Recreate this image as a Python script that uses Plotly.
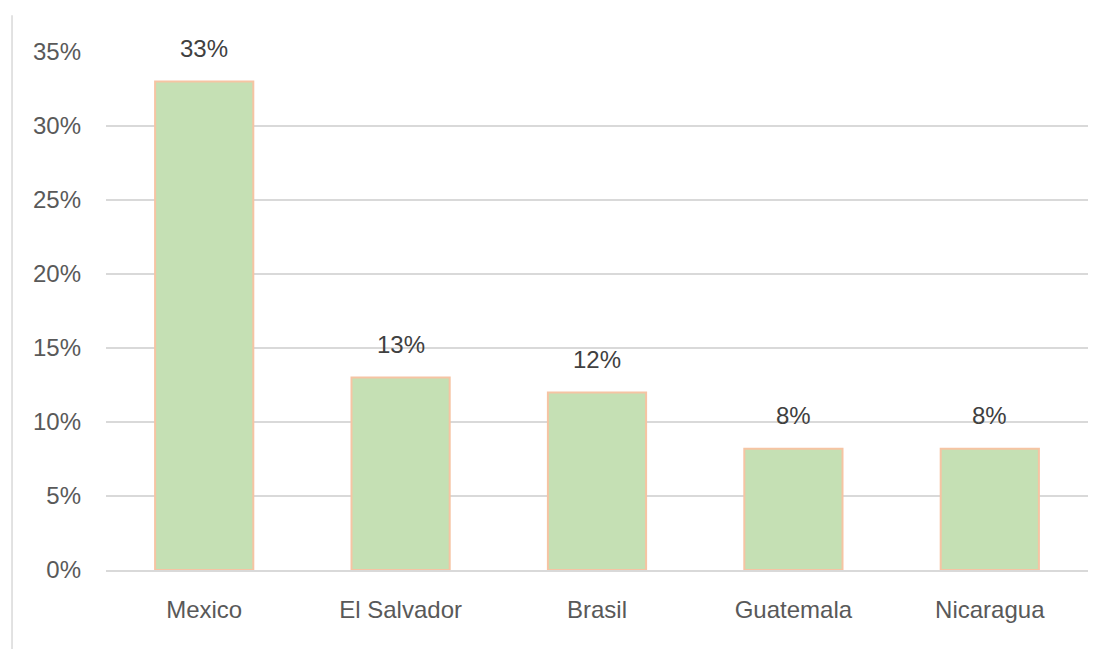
import plotly.graph_objects as go

categories = ["Mexico", "El Salvador", "Brasil", "Guatemala", "Nicaragua"]
values = [0.33, 0.13, 0.12, 0.082, 0.082]
tick_vals = [0, 0.05, 0.10, 0.15, 0.20, 0.25, 0.30, 0.35]
tick_text = ["0%", "5%", "10%", "15%", "20%", "25%", "30%", "35%"]

FONT = "Liberation Sans Narrow, Liberation Sans, Arial, sans-serif"

fig = go.Figure()
fig.add_trace(go.Bar(
    x=categories, y=values,
    marker=dict(color="#C5E0B4", line=dict(color="#F6C4A3", width=2)),
    width=0.5,
    hoverinfo="skip",
))

for c, v in zip(categories, values):
    fig.add_annotation(x=c, y=v, text=f"{round(v*100):.0f}%", showarrow=False,
                       yshift=33, font=dict(family=FONT, size=24, color="#404040"))

fig.add_shape(type="line", xref="paper", yref="paper", x0=-0.0957, x1=-0.0957,
              y0=1.071, y1=-0.16, line=dict(color="#D9D9D9", width=1.5))

fig.update_layout(
    width=1110, height=649,
    margin=dict(l=98, r=30, t=44, b=87),
    paper_bgcolor="white", plot_bgcolor="white",
    showlegend=False,
    font=dict(family=FONT, size=24, color="#595959"),
    bargap=0.5,
)
fig.update_xaxes(showgrid=False, showline=True, linecolor="#D9D9D9", linewidth=1.5,
                 ticks="", ticklabelstandoff=17, tickfont=dict(size=24, color="#595959"))
fig.update_yaxes(range=[0, 0.35], tickvals=tick_vals, ticktext=tick_text,
                 showgrid=True, gridcolor="#D9D9D9", gridwidth=1.5,
                 zeroline=False, showline=False, ticks="",
                 ticklabelstandoff=24, tickfont=dict(size=24, color="#595959"))

fig.write_html("out.html")
